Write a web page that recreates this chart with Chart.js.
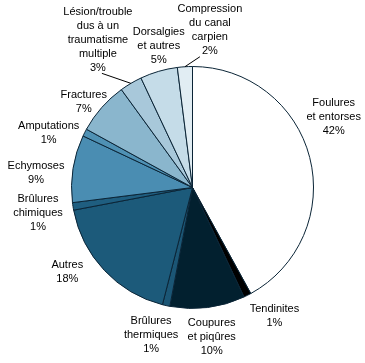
<!DOCTYPE html>
<html>
<head>
<meta charset="utf-8">
<script src="https://cdn.jsdelivr.net/npm/chart.js@4.4.0/dist/chart.umd.min.js"></script>
<style>
  html, body { margin: 0; padding: 0; background: #fff; }
  #wrap { width: 365px; height: 363px; }
</style>
</head>
<body>
<div id="wrap"><canvas id="pieChart"></canvas></div>
<script>
// categories (clockwise from 12 o'clock)
var categories = [
    ['Foulures', 'et entorses'],
    ['Tendinites'],
    ['Coupures', 'et piqûres'],
    ['Brûlures', 'thermiques'],
    ['Autres'],
    ['Brûlures', 'chimiques'],
    ['Echymoses'],
    ['Amputations'],
    ['Fractures'],
    ['Lésion/trouble', 'dus à un', 'traumatisme', 'multiple'],
    ['Dorsalgies', 'et autres'],
    ['Compression', 'du canal', 'carpien']
];
var percents = [42, 1, 10, 1, 18, 1, 9, 1, 7, 3, 5, 2];

// styles
var sliceColors = ['#ffffff', '#000000', '#02202f', '#1b5675', '#1c5a7a', '#1f5e80',
                   '#4a8db2', '#4f91b4', '#8ab6cd', '#a8c8da', '#c5dce8', '#e1edf3'];
// label offset from the slice's outer edge midpoint
var labelShift = [[24, -40], [27, 21], [4, 29], [-15, 29], [-37, 2], [-35, 7],
                  [-37, 4], [-36, 0], [-18, -6], [-33, -43], [0, -25], [25, -37]];
// leader line end offsets (null = no leader)
var leaderEnd = [null, null, null, null, null, null, null, null, null, [-29, -10], null, [15, -10]];

var pieLabels = {
    id: 'pieLabels',
    afterDraw: function (chart) {
        var ctx = chart.ctx;
        var arcs = chart.getDatasetMeta(0).data;
        ctx.save();
        ctx.font = '11px "Liberation Sans", Arial, sans-serif';
        ctx.fillStyle = '#000';
        ctx.textAlign = 'center';
        ctx.textBaseline = 'middle';
        arcs.forEach(function (arc, i) {
            var mid = (arc.startAngle + arc.endAngle) / 2;
            var ax = arc.x + Math.cos(mid) * arc.outerRadius;
            var ay = arc.y + Math.sin(mid) * arc.outerRadius;
            if (leaderEnd[i]) {
                ctx.beginPath();
                ctx.strokeStyle = '#000';
                ctx.lineWidth = 1;
                ctx.moveTo(ax, ay);
                ctx.lineTo(ax + leaderEnd[i][0], ay + leaderEnd[i][1]);
                ctx.stroke();
            }
            var lines = categories[i].concat([percents[i] + '%']);
            var cx = ax + labelShift[i][0];
            var cy = ay + labelShift[i][1];
            var top = cy - (lines.length - 1) * 14 / 2;
            lines.forEach(function (t, k) {
                ctx.fillText(t, cx, top + k * 14);
            });
        });
        ctx.restore();
    }
};

var pieChart = new Chart(document.getElementById('pieChart').getContext('2d'), {
    type: 'pie',
    data: {
        labels: categories.map(function (c) { return c.join(' '); }),
        datasets: [{
            data: percents,
            backgroundColor: sliceColors,
            borderColor: '#0a2436',
            borderWidth: 1
        }]
    },
    options: {
        responsive: true,
        maintainAspectRatio: false,
        animation: false,
        layout: {
            padding: { left: 71, right: 51, top: 66, bottom: 54 }
        },
        plugins: {
            legend: { display: false },
            tooltip: { enabled: false }
        }
    },
    plugins: [pieLabels]
});
</script>
</body>
</html>
